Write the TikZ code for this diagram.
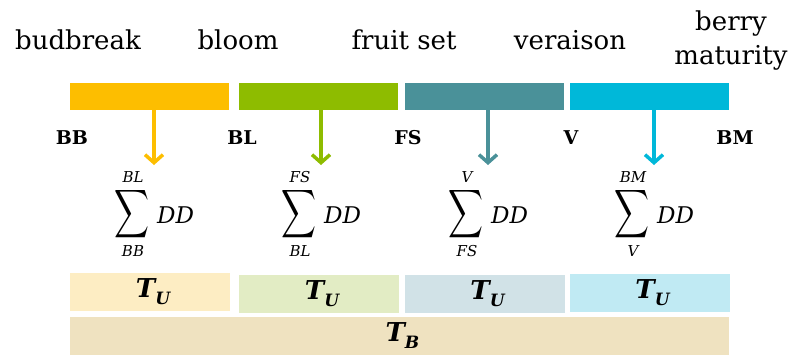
\documentclass[tikz,border=0pt]{standalone}
\usepackage{fontspec}
\setmainfont{DejaVu Serif}
\usepackage{graphicx}
\usetikzlibrary{arrows.meta}

\definecolor{cBB}{HTML}{FDBE00}
\definecolor{cBL}{HTML}{8EBC00}
\definecolor{cFS}{HTML}{4A9199}
\definecolor{cV}{HTML}{00B8D9}
\definecolor{lBB}{HTML}{FDEDC3}
\definecolor{lBL}{HTML}{E2ECC4}
\definecolor{lFS}{HTML}{D1E2E7}
\definecolor{lV}{HTML}{C0EAF3}
\definecolor{lTB}{HTML}{EFE2C0}

\tikzset{
  phasebar/.style={inner sep=0pt, minimum width=159pt, minimum height=27pt},
  tbox/.style={inner sep=0pt, minimum width=160pt, minimum height=38pt},
  stage/.style={font=\fontsize{26}{34}\selectfont, align=center, anchor=base, inner sep=0pt},
  code/.style={font=\fontsize{19}{19}\selectfont\bfseries, inner sep=0pt},
  gdd/.style={-{Straight Barb[length=8pt,width=18pt]}, line width=3.5pt},
  lim/.style={font=\fontsize{15}{15}\selectfont\itshape, anchor=base, inner sep=0pt},
  dd/.style={font=\fontsize{23}{23}\selectfont\itshape, anchor=base west, inner sep=0pt},
}
\newcommand{\bigsigma}{\resizebox*{35pt}{54pt}{$\displaystyle\sum$}}
\newcommand{\tsym}[1]{{\fontsize{26}{26}\selectfont\bfseries\itshape T\raisebox{-7pt}{\fontsize{17}{17}\selectfont #1}}}

\begin{document}
\begin{tikzpicture}[x=1pt,y=-1pt]
\useasboundingbox (0,0) rectangle (794,356);

% stage names
\node[stage] (sBB) at (78,49) {budbreak};
\node[stage] (sBL) at (238,49) {bloom};
\node[stage] (sFS) at (404,49) {fruit set};
\node[stage] (sV)  at (570,49) {veraison};
\node[stage, anchor=center] (sBM) at (731,41) {berry\\maturity};

% phase bars
\node[phasebar, fill=cBB] (b1) at (149.5,96.5) {};
\node[phasebar, fill=cBL] (b2) at (318.5,96.5) {};
\node[phasebar, fill=cFS] (b3) at (484.5,96.5) {};
\node[phasebar, fill=cV]  (b4) at (649.5,96.5) {};

% stage codes
\node[code] (kBB) at (72,138) {BB};
\node[code] (kBL) at (242,138) {BL};
\node[code] (kFS) at (408,138) {FS};
\node[code] (kV)  at (571,138) {V};
\node[code] (kBM) at (735,138) {BM};

% arrow tips
\coordinate (t1) at (154,165);
\coordinate (t2) at (321,165);
\coordinate (t3) at (488,165);
\coordinate (t4) at (654,165);

\draw[gdd, cBB] (b1.south -| t1) -- (t1);
\draw[gdd, cBL] (b2.south -| t2) -- (t2);
\draw[gdd, cFS] (b3.south -| t3) -- (t3);
\draw[gdd, cV]  (b4.south -| t4) -- (t4);

% degree-day sums
\foreach \x/\up/\lo/\n in {154/BL/BB/1, 321/FS/BL/2, 488/V/FS/3, 654/BM/V/4}{
  \node[inner sep=0pt] (sig\n) at (\x-22,214) {\bigsigma};
  \node[lim] (up\n) at (\x-21,182) {\up};
  \node[lim] (lo\n) at (\x-21,256) {\lo};
  \node[dd] (dd\n) at (\x+3,223) {DD};
}

% thermal time boxes
\node[tbox, fill=lBB] (u1) at (150,292) {\hspace*{6pt}\tsym{U}};
\node[tbox, fill=lBL] (u2) at (319,294) {\hspace*{6pt}\tsym{U}};
\node[tbox, fill=lFS] (u3) at (484.5,294) {\hspace*{6pt}\tsym{U}};
\node[tbox, fill=lV]  (u4) at (649.5,293) {\hspace*{6pt}\tsym{U}};
\node[tbox, fill=lTB, minimum width=659pt] (tb) at (399.5,336) {\hspace*{6pt}\tsym{B}};
\end{tikzpicture}
\end{document}
